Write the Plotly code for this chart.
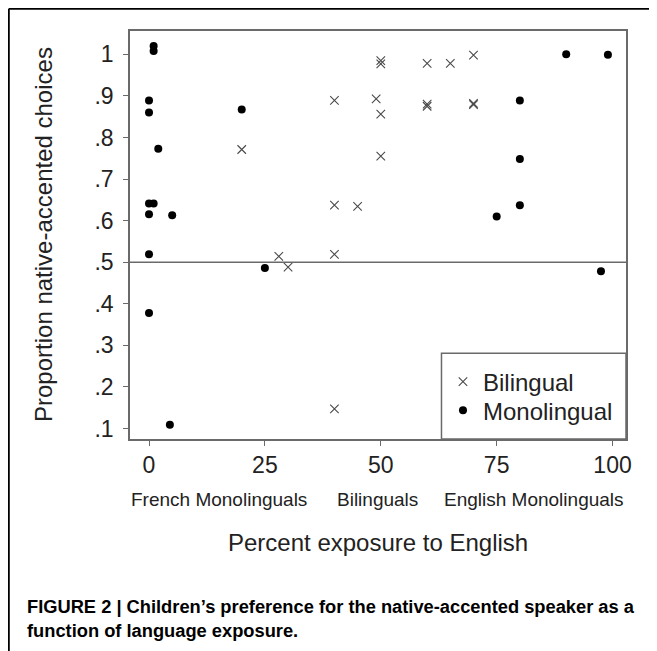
import plotly.graph_objects as go

# ---- data ----
bi_x = [20, 28, 30, 40, 40, 45, 40, 40, 49, 50, 50, 50, 50, 60, 65, 70, 60, 60, 70, 70]
bi_y = [0.771, 0.514, 0.488, 0.889, 0.637, 0.634, 0.519, 0.147, 0.893, 0.856, 0.755,
        0.985, 0.977, 0.978, 0.978, 0.998, 0.880, 0.875, 0.882, 0.879]

mono_x = [1, 1, 0, 0, 2, 20, 0, 1, 0, 5, 0, 25, 0, 4.5, 90, 99, 80, 80, 75, 80, 97.5]
mono_y = [1.020, 1.008, 0.889, 0.860, 0.773, 0.867, 0.641, 0.641, 0.615, 0.613, 0.519,
          0.486, 0.378, 0.109, 1.000, 0.999, 0.889, 0.748, 0.610, 0.637, 0.478]

x_ticks = [0, 25, 50, 75, 100]
x_ticktext = ["0", "25", "50", "75", "100"]
y_ticks = [0.1, 0.2, 0.3, 0.4, 0.5, 0.6, 0.7, 0.8, 0.9, 1.0]
y_ticktext = [".1", ".2", ".3", ".4", ".5", ".6", ".7", ".8", ".9", "1"]

group_labels = ["French Monolinguals", "Bilinguals", "English Monolinguals"]
group_label_x = [15.1, 49.2, 83.0]

reference_line_y = 0.5

x_title = "Percent exposure to English"
y_title = "Proportion native-accented choices"
caption_lines = ["FIGURE 2 | Children\u2019s preference for the native-accented speaker as a",
                 "function of language exposure."]

FONT = "Liberation Sans, Arial, Helvetica, sans-serif"
AXIS_GREY = "#6a6a6a"
TEXT = "#222222"

fig = go.Figure()
fig.add_trace(go.Scatter(
    x=bi_x, y=bi_y, mode="markers", name="Bilingual", legend="legend",
    marker=dict(symbol="x-thin-open", size=8.5, color="#4a4a4a",
                line=dict(width=1.1, color="#4a4a4a")),
))
fig.add_trace(go.Scatter(
    x=mono_x, y=mono_y, mode="markers", name="Monolingual", legend="legend2",
    marker=dict(symbol="circle", size=8, color="#000000"),
))

annotations = []
for lab, gx in zip(group_labels, group_label_x):
    annotations.append(dict(text=lab, x=gx, xref="x", y=-0.1495, yref="paper",
                            showarrow=False, xanchor="center", yanchor="middle",
                            font=dict(family=FONT, size=19, color=TEXT)))
annotations.append(dict(text=x_title, x=0.5, xref="paper", y=-0.2525, yref="paper",
                        showarrow=False, xanchor="center", yanchor="middle",
                        font=dict(family=FONT, size=24, color=TEXT)))
annotations.append(dict(text=y_title, x=-0.1754, xref="paper", y=0.5, yref="paper",
                        showarrow=False, xanchor="center", yanchor="middle", textangle=-90,
                        font=dict(family=FONT, size=24, color=TEXT)))
annotations.append(dict(text="<br>".join("<b>" + s + "</b>" for s in caption_lines),
                        x=-0.2117, xref="paper", y=-0.44, yref="paper",
                        showarrow=False, xanchor="left", yanchor="middle", align="left",
                        font=dict(family=FONT, size=18.3, color="#000000")))

shapes = [
    # horizontal reference line at .5
    dict(type="line", xref="paper", x0=0, x1=1, yref="y", y0=reference_line_y, y1=reference_line_y,
         line=dict(color=AXIS_GREY, width=1.5)),
    # legend box
    dict(type="rect", xref="paper", x0=0.628, x1=1.0, yref="paper", y0=0.0, y1=0.2104,
         line=dict(color=AXIS_GREY, width=1.5), fillcolor="rgba(0,0,0,0)"),
    # outer figure frame (top and left edges)
    dict(type="line", xref="paper", x0=-0.2444, x1=1.2, yref="paper", y0=1.0544, y1=1.0544,
         line=dict(color="#000000", width=2)),
    dict(type="line", xref="paper", x0=-0.2444, x1=-0.2444, yref="paper", y0=1.0544, y1=-0.6,
         line=dict(color="#000000", width=2)),
]

legend_common = dict(xanchor="left", yanchor="middle", bgcolor="rgba(0,0,0,0)", borderwidth=0,
                     font=dict(family=FONT, size=24, color=TEXT), itemsizing="trace")

fig.update_layout(
    width=649, height=643,
    margin=dict(l=122, r=31, t=23, b=212),
    paper_bgcolor="white", plot_bgcolor="white",
    showlegend=True,
    legend=dict(x=0.631, y=0.1397, **legend_common),
    legend2=dict(x=0.631, y=0.0694, **legend_common),
    annotations=annotations,
    shapes=shapes,
    font=dict(family=FONT, color=TEXT),
)
fig.update_xaxes(
    range=[-4.1, 102.9], tickvals=x_ticks, ticktext=x_ticktext,
    showgrid=False, zeroline=False, showline=True, mirror=True,
    linecolor=AXIS_GREY, linewidth=1.5,
    ticks="outside", ticklen=5, tickcolor=AXIS_GREY, tickwidth=1.2,
    tickfont=dict(family=FONT, size=23, color=TEXT),
)
fig.update_yaxes(
    range=[0.0747, 1.056], tickvals=y_ticks, ticktext=y_ticktext,
    showgrid=False, zeroline=False, showline=True, mirror=True,
    linecolor=AXIS_GREY, linewidth=1.5,
    ticks="outside", ticklen=5, tickcolor=AXIS_GREY, tickwidth=1.2,
    ticklabelstandoff=5,
    tickfont=dict(family=FONT, size=23, color=TEXT),
)

fig.write_html("out.html")
